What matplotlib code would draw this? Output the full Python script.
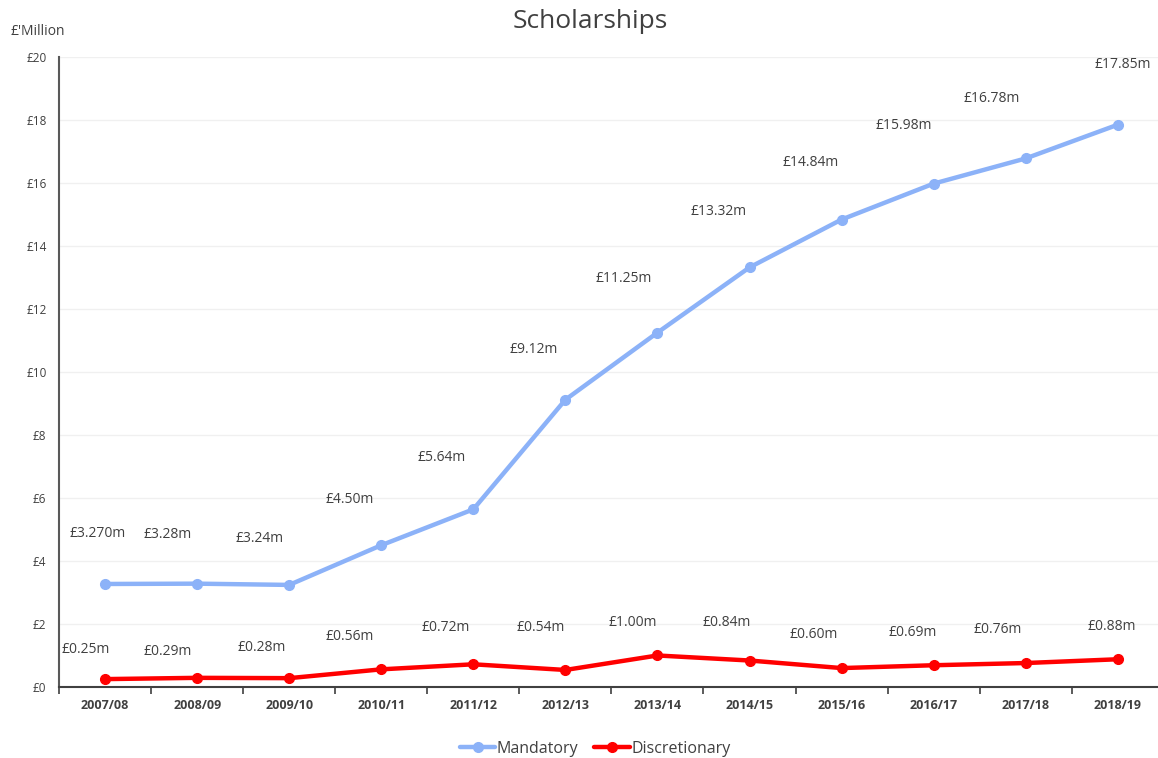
import matplotlib.pyplot as plt

# ------------------------------------------------------------
# Data
# ------------------------------------------------------------
years = ["2007/08", "2008/09", "2009/10", "2010/11", "2011/12", "2012/13",
         "2013/14", "2014/15", "2015/16", "2016/17", "2017/18", "2018/19"]
mandatory = [3.27, 3.28, 3.24, 4.50, 5.64, 9.12, 11.25, 13.32, 14.84, 15.98, 16.78, 17.85]
discretionary = [0.25, 0.29, 0.28, 0.56, 0.72, 0.54, 1.00, 0.84, 0.60, 0.69, 0.76, 0.88]
mandatory_labels = ["£3.270m", "£3.28m", "£3.24m", "£4.50m", "£5.64m", "£9.12m",
                    "£11.25m", "£13.32m", "£14.84m", "£15.98m", "£16.78m", "£17.85m"]
discretionary_labels = ["£0.25m", "£0.29m", "£0.28m", "£0.56m", "£0.72m", "£0.54m",
                        "£1.00m", "£0.84m", "£0.60m", "£0.69m", "£0.76m", "£0.88m"]

# label offsets in pixels (label centre relative to point)
m_dx = [-7, -30, -30, -32, -32, -32, -34, -31, -31, -30, -34, 5]
m_dy = [50, 49, 46, 46, 52, 50, 54, 56, 57, 58, 60, 60]
d_dx = [-19, -29, -28, -32, -28, -25, -25, -23, -28, -21, -28, -6]
d_dy = [30, 26, 31, 33, 37, 42, 33, 38, 34, 33, 34, 33]

plt.rcParams["font.family"] = ["Open Sans", "DejaVu Sans"]

blue = "#8cb2f8"
red = "#ff0000"
text_col = "#404040"

fig = plt.figure(figsize=(11.58, 7.58), dpi=100)
ax = fig.add_axes([0.051, 0.0937, 0.954, 0.8311])

x = list(range(len(years)))
ax.plot(x, mandatory, color=blue, lw=3.2, marker="o", markersize=7,
        solid_capstyle="round", label="Mandatory", zorder=3)
ax.plot(x, discretionary, color=red, lw=3.2, marker="o", markersize=7,
        solid_capstyle="round", label="Discretionary", zorder=3)

for i in x:
    ax.annotate(mandatory_labels[i], (i, mandatory[i]), xytext=(m_dx[i], m_dy[i]),
                textcoords="offset pixels", ha="center", va="center",
                fontsize=10, color=text_col)
    ax.annotate(discretionary_labels[i], (i, discretionary[i]), xytext=(d_dx[i], d_dy[i]),
                textcoords="offset pixels", ha="center", va="center",
                fontsize=10, color=text_col)

# ------------------------------------------------------------
# Axes styling
# ------------------------------------------------------------
ax.set_xlim(-0.5, 11.5)
ax.set_ylim(0, 20)
ax.set_yticks(range(0, 21, 2))
ax.set_yticklabels(["£" + str(v) for v in range(0, 21, 2)], fontsize=8.5, color=text_col)
ax.set_xticks(x)
ax.set_xticklabels(years, fontsize=9, fontweight="bold", color=text_col)
ax.set_xticks([i - 0.5 for i in range(len(years) + 1)], minor=True)
ax.tick_params(axis="x", which="major", length=0, pad=9)
ax.tick_params(axis="x", which="minor", length=5, width=1.2, color="#404040")
ax.tick_params(axis="y", length=0, pad=9)
ax.grid(axis="y", color="#f0f0f0", lw=1)
ax.set_axisbelow(True)
for side in ["top", "right"]:
    ax.spines[side].set_visible(False)
ax.spines["left"].set_color("#595959")
ax.spines["left"].set_linewidth(1.5)
ax.spines["bottom"].set_color("#404040")
ax.spines["bottom"].set_linewidth(1.5)

fig.text(0.51, 0.972, "Scholarships", ha="center", va="center", fontsize=19, color=text_col)
fig.text(0.009, 0.958, "£'Million", ha="left", va="center", fontsize=10, color=text_col)

fig.legend(loc="center", bbox_to_anchor=(0.514, 0.012), ncol=2, frameon=False,
           fontsize=11.5, handlelength=2.2, handletextpad=0.1, columnspacing=1.0,
           labelcolor=text_col)

plt.savefig("out.png", dpi=100)
